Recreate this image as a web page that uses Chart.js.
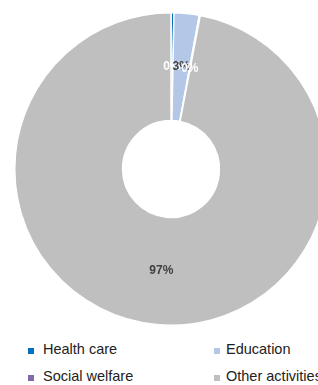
<!DOCTYPE html>
<html>
<head>
<meta charset="utf-8">
<script src="https://cdn.jsdelivr.net/npm/chart.js@4"></script>
<style>
  body { margin: 0; overflow: hidden; background: #fff; font-family: "Liberation Sans", Arial, sans-serif; }
  #wrap { position: relative; width: 318px; height: 385px; overflow: hidden; }
  #pie { position: absolute; left: 0; top: 0; }
  .txt { position: absolute; font-size: 14.5px; line-height: 17px; color: #222; white-space: nowrap; }
  .box { position: absolute; width: 6px; height: 6px; }
</style>
</head>
<body>
<div id="wrap">
  <canvas id="pie" width="342" height="340"></canvas>
  <div id="legend"></div>
</div>
<script>
// data (shares in %)
var categories = ['Health care', 'Education', 'Social welfare', 'Other activities'];
var shares = [0.3, 2.6, 0.1, 97];
var colours = ['#0070C0', '#B4C7E7', '#7F6AA7', '#BFBFBF'];
var labelColours = ['#ffffff', '#404040', '#ffffff', '#404040'];

// percentage labels in the middle of each slice
var sliceLabels = {
  id: 'sliceLabels',
  afterDatasetsDraw: function(chart) {
    var ctx = chart.ctx;
    var ds = chart.data.datasets[0];
    var total = ds.data.reduce(function(a, b) { return a + b; }, 0);
    ctx.save();
    ctx.font = 'bold 12px "Liberation Sans", Arial, sans-serif';
    ctx.textAlign = 'center';
    ctx.textBaseline = 'middle';
    chart.getDatasetMeta(0).data.forEach(function(arc, i) {
      var p = arc.tooltipPosition();
      ctx.fillStyle = labelColours[i];
      ctx.fillText(Math.round(ds.data[i] / total * 100) + '%', p.x, p.y);
    });
    ctx.restore();
  }
};

new Chart(document.getElementById('pie'), {
  type: 'doughnut',
  data: {
    labels: categories,
    datasets: [{
      data: shares,
      backgroundColor: colours,
      borderColor: '#ffffff',
      borderWidth: 1.5
    }]
  },
  options: {
    responsive: false,
    animation: false,
    cutout: '31%',
    layout: { padding: { left: 14, right: 14, top: 12, bottom: 14 } },
    plugins: {
      legend: { display: false },
      tooltip: { enabled: false }
    }
  },
  plugins: [sliceLabels]
});

// legend, two columns: [marker x, text x, row top]
var legendPos = [[28, 43, 341], [214, 226, 341], [28, 43, 368], [214, 226, 368]];
var legend = document.getElementById('legend');
categories.forEach(function(name, i) {
  var b = document.createElement('div');
  b.className = 'box';
  b.style.background = colours[i];
  b.style.left = legendPos[i][0] + 'px';
  b.style.top = (legendPos[i][2] + 7) + 'px';
  legend.appendChild(b);
  var t = document.createElement('div');
  t.className = 'txt';
  t.style.left = legendPos[i][1] + 'px';
  t.style.top = legendPos[i][2] + 'px';
  t.textContent = name;
  legend.appendChild(t);
});
</script>
</body>
</html>
